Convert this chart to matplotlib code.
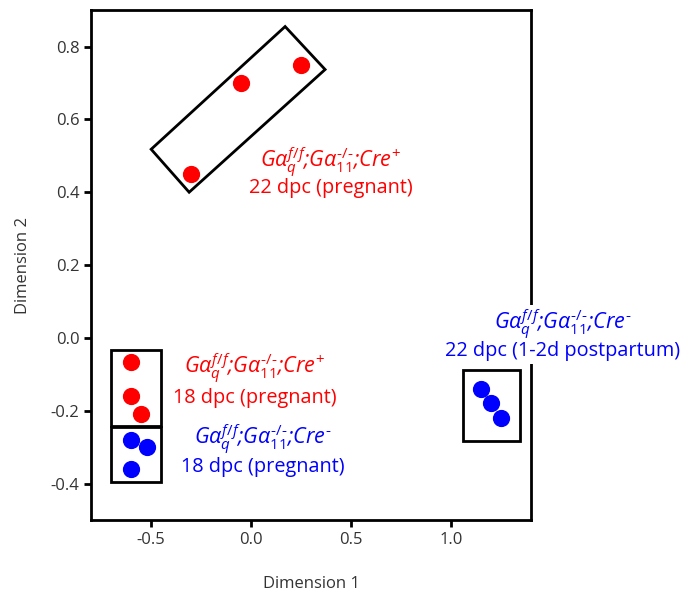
import matplotlib
matplotlib.use("Agg")
from matplotlib import pyplot as plt
from matplotlib.patches import Polygon, Rectangle

plt.rcParams['font.family'] = ['Open Sans', 'DejaVu Sans']
plt.rcParams['mathtext.fontset'] = 'custom'
plt.rcParams['mathtext.rm'] = 'Open Sans'
plt.rcParams['mathtext.it'] = 'Open Sans:italic'

# MDS coordinates
cre_pos_22_x = [-0.30, -0.05, 0.25]
cre_pos_22_y = [0.45, 0.70, 0.75]
cre_pos_18_x = [-0.60, -0.60, -0.55]
cre_pos_18_y = [-0.065, -0.16, -0.21]
cre_neg_18_x = [-0.60, -0.52, -0.60]
cre_neg_18_y = [-0.28, -0.30, -0.36]
cre_neg_22_x = [1.15, 1.20, 1.25]
cre_neg_22_y = [-0.14, -0.18, -0.22]

xticks = [-0.5, 0.0, 0.5, 1.0]
yticks = [-0.4, -0.2, 0.0, 0.2, 0.4, 0.6, 0.8]

red = '#ff0000'
blue = '#0000ff'
geno_pos = r'$G\alpha_q^{f/f}$;$G\alpha_{11}^{\mathrm{‐/‐}}$;$Cre^{+}$'
geno_neg = r'$G\alpha_q^{f/f}$;$G\alpha_{11}^{\mathrm{‐/‐}}$;$Cre^{‐}$'

fig = plt.figure(figsize=(6.96, 5.97), dpi=100)
ax = fig.add_axes([0.131, 0.129, 0.632, 0.854])

ms = 130
ax.scatter(cre_pos_22_x, cre_pos_22_y, s=ms, color=red, zorder=3)
ax.scatter(cre_pos_18_x, cre_pos_18_y, s=ms, color=red, zorder=3)
ax.scatter(cre_neg_18_x, cre_neg_18_y, s=ms, color=blue, zorder=3)
ax.scatter(cre_neg_22_x, cre_neg_22_y, s=ms, color=blue, zorder=3)

# group boxes
box_kw = dict(fill=False, edgecolor='black', linewidth=2, zorder=2)
ax.add_patch(Polygon([(0.17, 0.855), (0.37, 0.737), (-0.31, 0.40), (-0.50, 0.518)],
                     closed=True, **box_kw))
ax.add_patch(Rectangle((-0.70, -0.241), 0.247, 0.209, **box_kw))
ax.add_patch(Rectangle((-0.70, -0.397), 0.247, 0.153, **box_kw))
ax.add_patch(Rectangle((1.06, -0.284), 0.286, 0.196, **box_kw))

gkw = dict(fontsize=15.5, ha='center', va='center', style='italic', clip_on=False)
tkw = dict(fontsize=14.3, ha='center', va='center', clip_on=False)
ax.text(0.40, 0.482, geno_pos, color=red, **gkw)
ax.text(0.40, 0.412, '22 dpc (pregnant)', color=red, **tkw)
ax.text(0.02, -0.085, geno_pos, color=red, **gkw)
ax.text(0.02, -0.164, '18 dpc (pregnant)', color=red, **tkw)
ax.text(0.06, -0.28, geno_neg, color=blue, **gkw)
ax.text(0.06, -0.354, '18 dpc (pregnant)', color=blue, **tkw)

# right label sits on top of the spine (white background hides it)
bg = dict(facecolor='white', edgecolor='none', pad=2)
ax.text(1.56, 0.035, geno_neg, color=blue, bbox=bg, zorder=4, **gkw)
ax.text(1.56, -0.036, '22 dpc (1-2d postpartum)', color=blue, bbox=bg, zorder=4, **tkw)

ax.set_xlim(-0.8, 1.4)
ax.set_ylim(-0.5, 0.9)
ax.set_xticks(xticks)
ax.set_yticks(yticks)
ax.set_xticklabels(['%.1f' % v for v in xticks])
ax.set_yticklabels(['%.1f' % v for v in yticks])
ax.tick_params(width=2, length=5, labelsize=12, colors='black', labelcolor='#333333')
for sp in ax.spines.values():
    sp.set_linewidth(2)
ax.set_xlabel('Dimension 1', fontsize=12, color='#333333', labelpad=20)
ax.set_ylabel('Dimension 2', fontsize=12, color='#333333', labelpad=14)

fig.savefig('out.png', dpi=100)
